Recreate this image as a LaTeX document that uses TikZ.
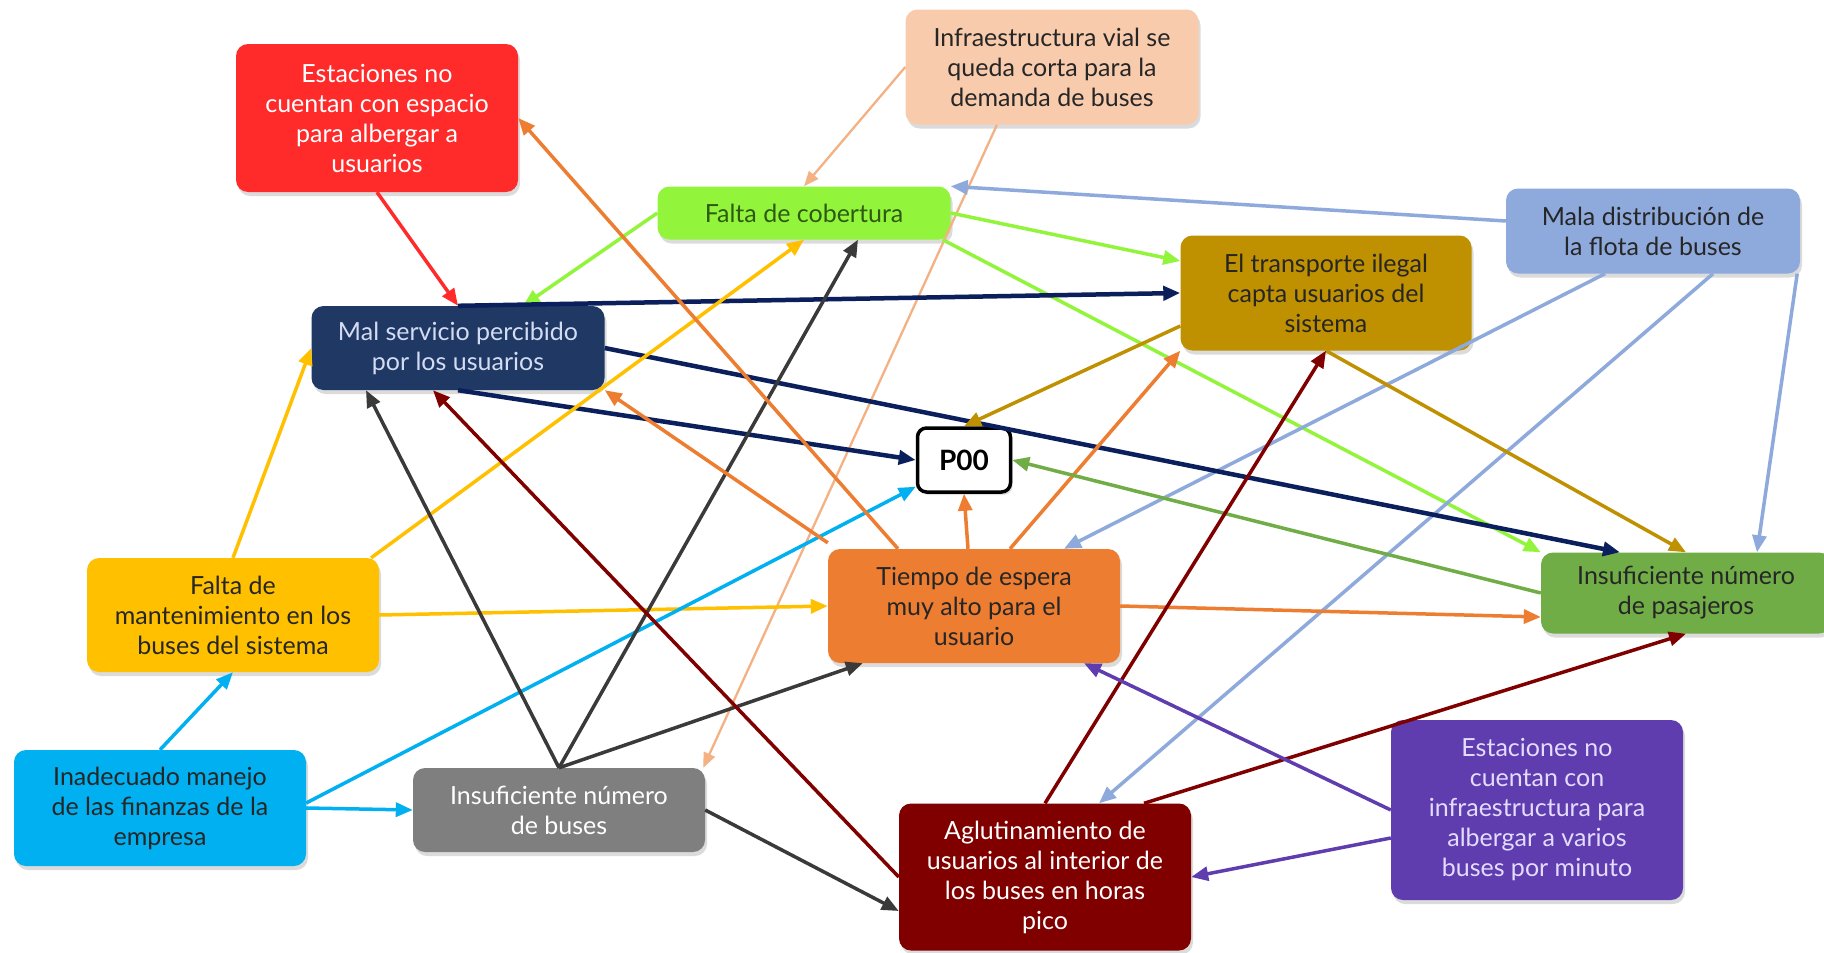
\documentclass[tikz,border=0pt]{standalone}
\usepackage{fontspec}
\setmainfont{Lato}
\usetikzlibrary{arrows.meta,shadows}
\definecolor{cRed}{HTML}{FF2B2B}
\definecolor{cPeach}{HTML}{F8CBAD}
\definecolor{cPeachL}{HTML}{F4B183}
\definecolor{cLime}{HTML}{92F53C}
\definecolor{cNavy}{HTML}{1F3864}
\definecolor{cNavyL}{HTML}{0A1F5C}
\definecolor{cGold}{HTML}{BF9000}
\definecolor{cLBlue}{HTML}{8EA9DB}
\definecolor{cYel}{HTML}{FFC000}
\definecolor{cOra}{HTML}{ED7D31}
\definecolor{cGreen}{HTML}{70AD47}
\definecolor{cCyan}{HTML}{00B0F0}
\definecolor{cGray}{HTML}{7F7F7F}
\definecolor{cDGray}{HTML}{3A3A3A}
\definecolor{cDRed}{HTML}{800000}
\definecolor{cPurp}{HTML}{5F3DAE}
\definecolor{cTxt}{HTML}{262626}
\definecolor{cLav}{HTML}{E4DCFF}
\definecolor{cCobTxt}{HTML}{2E5A12}
\definecolor{cMalTxt}{HTML}{D3DCF2}
\begin{document}
\begin{tikzpicture}[x=1pt,y=-1pt,
  box/.style={rounded corners=12pt, align=center, inner sep=4pt,
    font=\fontsize{25}{30}\selectfont,
    drop shadow={shadow xshift=2pt,shadow yshift=-4pt,opacity=0.28}},
  arr/.style={line width=3.5pt, -{Triangle[length=17pt,width=14pt]}},
  thinarr/.style={line width=2.3pt, -{Triangle[length=15pt,width=12pt]}},
]
\fill[white] (0,0) rectangle (1824,953);
\useasboundingbox (0,0) rectangle (1824,953);

% nodes
\node[box, fill=cRed, text=white, minimum width=282pt, minimum height=148pt] (red) at (377,118)
  {Estaciones no\\cuentan con espacio\\para albergar a\\usuarios};
\node[box, fill=cPeach, text=cTxt, minimum width=293pt, minimum height=115pt] (infra) at (1052,67)
  {Infraestructura vial se\\queda corta para la\\demanda de buses};
\node[box, fill=cLime, text=cCobTxt, minimum width=293pt, minimum height=53pt] (cob) at (804,213)
  {Falta de cobertura};
\node[box, fill=cNavy, text=cMalTxt, minimum width=293pt, minimum height=84pt] (mal) at (458,348)
  {Mal servicio percibido\\por los usuarios};
\node[box, fill=cGold, text=cTxt, minimum width=291pt, minimum height=115pt] (ileg) at (1326,293)
  {El transporte ilegal\\capta usuarios del\\sistema};
\node[box, fill=cLBlue, text=cTxt, minimum width=294pt, minimum height=85pt] (mala) at (1653,231)
  {Mala distribución de\\la flota de buses};
\node[rounded corners=9pt, draw=black, line width=3.5pt, fill=white, minimum width=93pt, minimum height=64pt,
  font=\fontsize{28}{30}\selectfont\bfseries, drop shadow={shadow xshift=2pt,shadow yshift=-3pt,opacity=0.25}] (p00) at (964,460) {P00};
\node[box, fill=cYel, text=cTxt, minimum width=292pt, minimum height=114pt] (mant) at (233,615)
  {Falta de\\mantenimiento en los\\buses del sistema};
\node[box, fill=cOra, text=cTxt, minimum width=292pt, minimum height=114pt] (tiempo) at (974,606)
  {Tiempo de espera\\muy alto para el\\usuario};
\node[box, fill=cGreen, text=cTxt, minimum width=290pt, minimum height=81pt] (pasaj) at (1686,593)
  {Insuficiente número\\de pasajeros};
\node[box, fill=cCyan, text=cTxt, minimum width=292pt, minimum height=116pt] (inad) at (160,808)
  {Inadecuado manejo\\de las finanzas de la\\empresa};
\node[box, fill=cGray, text=white, minimum width=292pt, minimum height=84pt] (nbuses) at (559,810)
  {Insuficiente número\\de buses};
\node[box, fill=cDRed, text=white, minimum width=292pt, minimum height=147pt] (aglut) at (1045,877)
  {Aglutinamiento de\\usuarios al interior de\\los buses en horas\\pico};
\node[box, fill=cPurp, text=cLav, minimum width=292pt, minimum height=180pt] (purp) at (1537,810)
  {Estaciones no\\cuentan con\\infraestructura para\\albergar a varios\\buses por minuto};

% edges
\draw[arr, cRed] (red.south) -- (mal.north);
\draw[thinarr, cPeachL] (infra.west) -- (cob.north);
\draw[thinarr, cPeachL] ([xshift=-55pt]infra.south) -- ([xshift=-2pt]nbuses.north east);
\draw[arr, cLime] (cob.west) -- ([xshift=65pt]mal.north);
\draw[arr, cLime] (cob.east) -- ([yshift=32pt]ileg.west);
\draw[arr, cLime] ([xshift=-8pt]cob.south east) -- (pasaj.north west);
\draw[arr, cLBlue] ([yshift=10pt]mala.west) -- (cob.north east);
\draw[arr, cLBlue] ([xshift=-48pt]mala.south) -- ([xshift=90pt]tiempo.north);
\draw[arr, cLBlue] ([xshift=60pt]mala.south) -- ([xshift=54pt]aglut.north);
\draw[arr, cLBlue] ([xshift=-3pt]mala.south east) -- ([xshift=71pt]pasaj.north);
\draw[arr, cNavyL, line width=4.5pt] (mal.north) -- (ileg.west);
\draw[arr, cNavyL, line width=4.5pt] (mal.south) -- (p00.west);
\draw[arr, cNavyL, line width=4.5pt] (mal.east) -- ([xshift=-66pt]pasaj.north);
\draw[arr, cGold] ([yshift=-33pt]ileg.west) -- (p00.north);
\draw[arr, cGold] (ileg.south) -- (pasaj.north);
\draw[arr, cYel] (mant.north) -- (mal.west);
\draw[arr, cYel] ([xshift=-8pt]mant.north east) -- (cob.south);
\draw[arr, cYel] (mant.east) -- (tiempo.west);
\draw[arr, cCyan] (inad.north) -- (mant.south);
\draw[arr, cCyan] ([yshift=5pt]inad.east) -- ([yshift=7pt]p00.south west);
\draw[arr, cCyan] (inad.east) -- (nbuses.west);
\draw[arr, cDGray] (nbuses.north) -- ([xshift=-92pt]mal.south);
\draw[arr, cDGray] (nbuses.north) -- ([xshift=54pt]cob.south);
\draw[arr, cDGray] (nbuses.north) -- ([xshift=35pt]tiempo.south west);
\draw[arr, cDGray] (nbuses.east) -- ([yshift=-34pt]aglut.west);
\draw[arr, cOra] ([xshift=-76pt]tiempo.north) -- (red.east);
\draw[arr, cOra] ([yshift=6pt]tiempo.north west) -- (mal.south east);
\draw[arr, cOra] ([xshift=-6pt]tiempo.north) -- (p00.south);
\draw[arr, cOra] ([xshift=36pt]tiempo.north) -- (ileg.south west);
\draw[arr, cOra] (tiempo.east) -- ([yshift=-24pt]pasaj.west);
\draw[arr, cGreen] (pasaj.west) -- (p00.east);
\draw[arr, cDRed] (aglut.west) -- ([xshift=-25pt]mal.south);
\draw[arr, cDRed] (aglut.north) -- (ileg.south);
\draw[arr, cDRed] ([xshift=99pt]aglut.north) -- (pasaj.south);
\draw[arr, cPurp] (purp.west) -- ([xshift=110pt]tiempo.south);
\draw[arr, cPurp] ([yshift=-28pt]purp.west) -- (aglut.east);
\end{tikzpicture}
\end{document}
